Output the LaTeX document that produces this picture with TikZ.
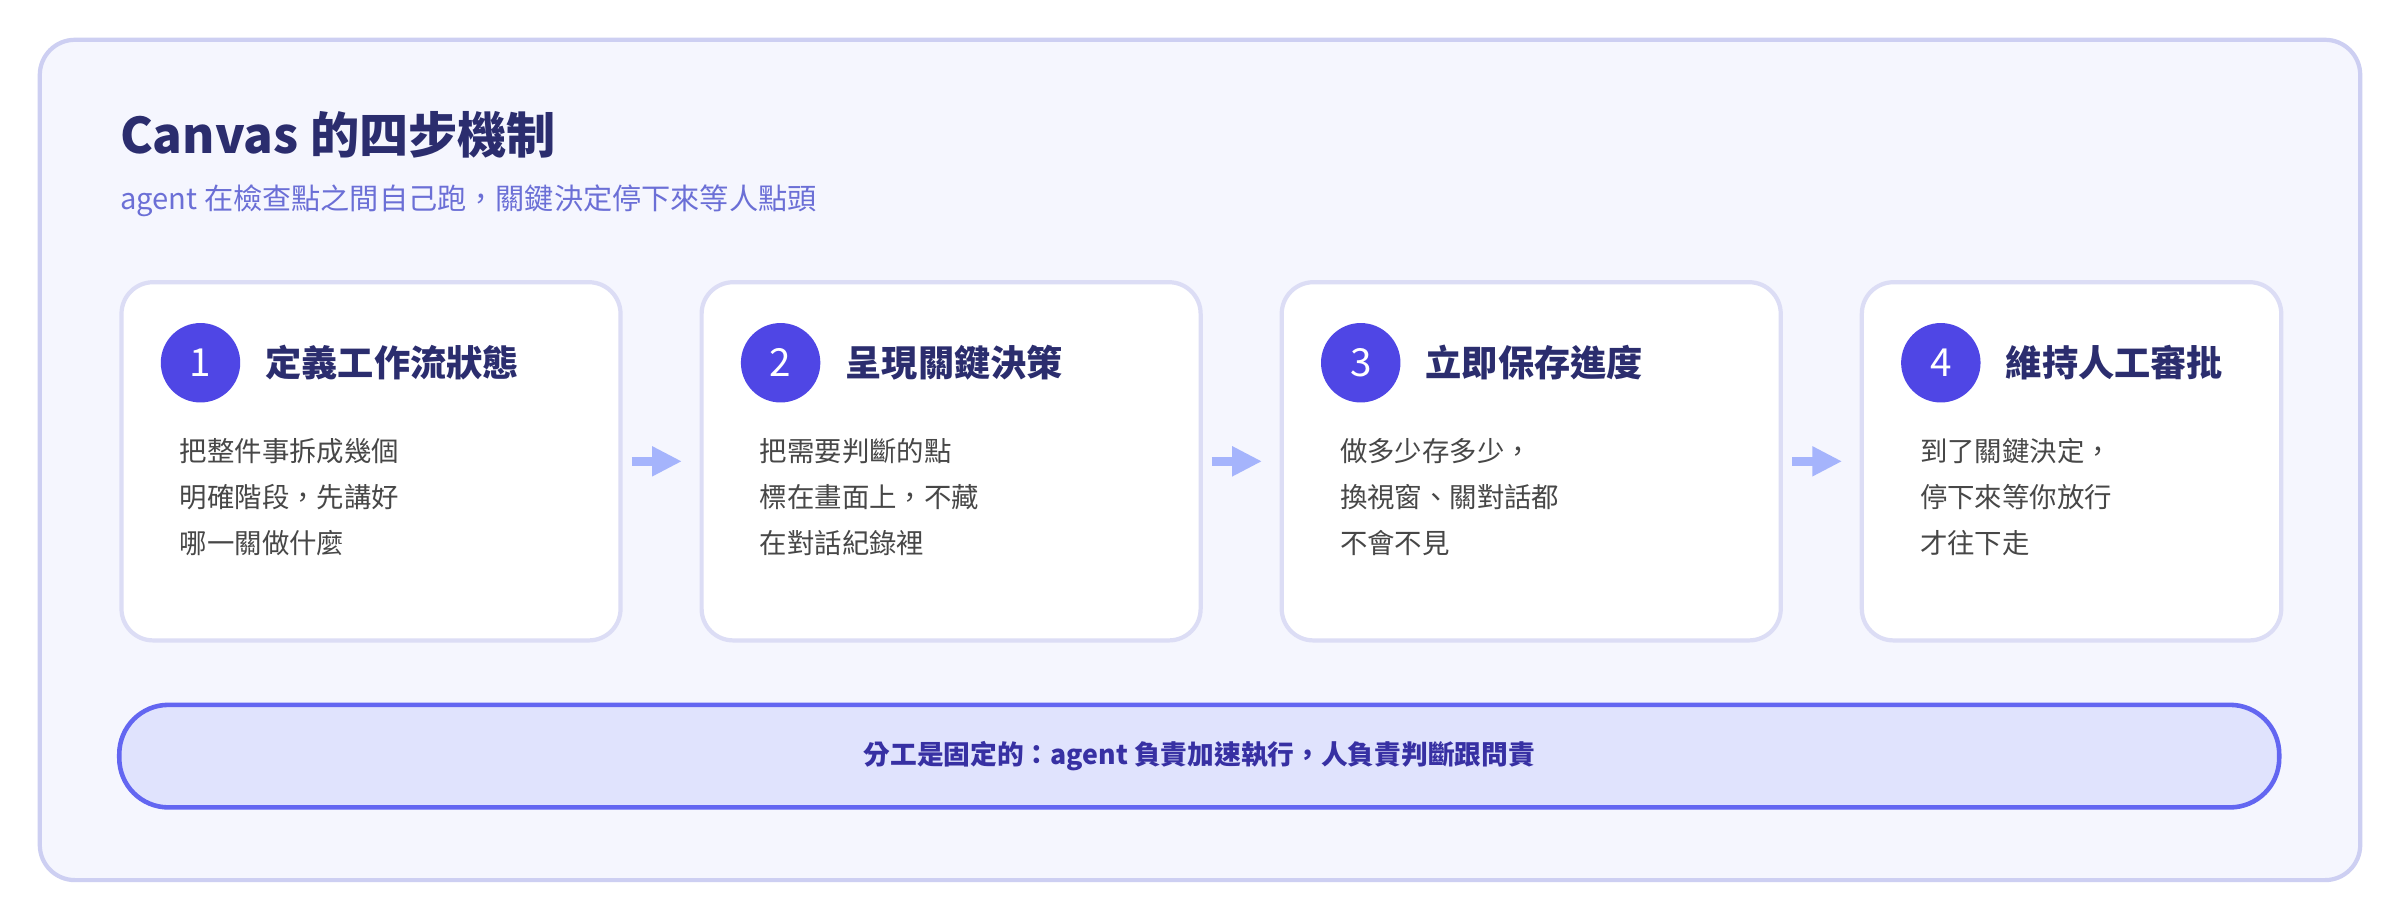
\documentclass[tikz,border=0pt]{standalone}
\usepackage{fontspec}
\setmainfont{Noto Sans CJK TC}
\usetikzlibrary{arrows.meta}
\definecolor{panelfill}{HTML}{F5F6FE}
\definecolor{panelline}{HTML}{CDCFF2}
\definecolor{cardline}{HTML}{DCDDF5}
\definecolor{ink}{HTML}{2B2D6E}
\definecolor{subink}{HTML}{6B6FD6}
\definecolor{dot}{HTML}{4F46E5}
\definecolor{flowc}{HTML}{A5B4FC}
\definecolor{pillfill}{HTML}{E0E3FD}
\definecolor{pillline}{HTML}{6366F1}
\definecolor{pillink}{HTML}{3730A3}
\tikzset{
  card/.style={draw=cardline,line width=1.2pt,fill=white,rounded corners=9pt,anchor=north west,minimum height=234*0.4355pt,inner sep=0pt},
  num/.style={circle,fill=dot,text=white,minimum size=22.6pt,inner sep=0pt,font=\fontsize{11}{12}\selectfont},
  head/.style={anchor=west,text=ink,font=\fontsize{10.3}{12}\bfseries\selectfont,inner sep=0pt},
  body/.style={anchor=north west,text=black!72,align=left,font=\fontsize{7.8}{13.1}\selectfont,inner sep=0pt},
  flow/.style={flowc,line width=2.6pt,-{Triangle[length=8.5pt,width=8pt]},shorten <=2.6pt,shorten >=5pt}
}
\begin{document}
\begin{tikzpicture}[x=0.015306cm,y=-0.015306cm]
\useasboundingbox[fill=white] (0,0) rectangle (1568,601);
% panel
\draw[panelline,fill=panelfill,line width=1.2pt,rounded corners=10pt] (26,26) rectangle (1542,575);
\node[anchor=west,text=ink,font=\fontsize{14}{16}\bfseries\selectfont,inner sep=0pt] (title) at (78,88) {Canvas 的四步機制};
\node[anchor=west,text=subink,font=\fontsize{8.3}{10}\selectfont,inner sep=0pt] (sub) at (78,131) {agent 在檢查點之間自己跑，關鍵決定停下來等人點頭};
% cards
\node[card,minimum width=326*0.4355pt] (c1) at (78,183) {};
\node[card,minimum width=326*0.4355pt] (c2) at (457,183) {};
\node[card,minimum width=326*0.4355pt] (c3) at (836,183) {};
\node[card,minimum width=274*0.4355pt] (c4) at (1215,183) {};
\foreach \k/\x/\h/\t in {1/78/定義工作流狀態/{把整件事拆成幾個\\明確階段，先講好\\哪一關做什麼},
  2/457/呈現關鍵決策/{把需要判斷的點\\標在畫面上，不藏\\在對話紀錄裡},
  3/836/立即保存進度/{做多少存多少，\\換視窗、關對話都\\不會不見},
  4/1215/維持人工審批/{到了關鍵決定，\\停下來等你放行\\才往下走}} {
  \node[num] (n\k) at (\x+53,237) {\k};
  \node[head] (h\k) at (\x+95,237) {\h};
  \node[body] (b\k) at (\x+39,286) {\t};
}
\foreach \a/\b in {c1/c2,c2/c3,c3/c4} \draw[flow] (\a) -- (\b);
% bottom
\node[draw=pillline,fill=pillfill,line width=1.3pt,rounded corners=14pt,minimum width=1411*0.4355pt,minimum height=67*0.4355pt,text=pillink,font=\fontsize{7.6}{9}\bfseries\selectfont] (pill) at (783.5,494) {分工是固定的：agent 負責加速執行，人負責判斷跟問責};
\end{tikzpicture}
\end{document}
